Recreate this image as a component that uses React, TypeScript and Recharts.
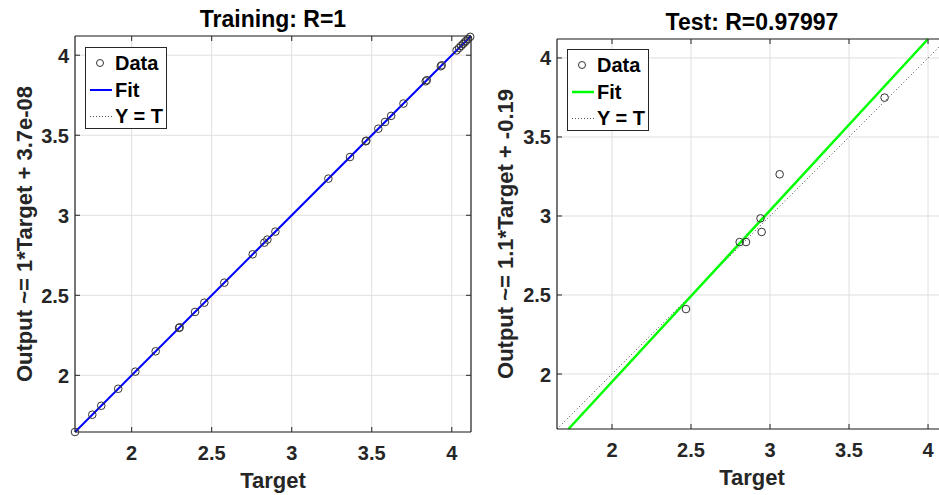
import React from 'react'
import { ComposedChart, Scatter, Line, XAxis, YAxis, CartesianGrid, Legend } from 'recharts'

// tick values shared by both panels
const tickValues = [2, 2.5, 3, 3.5, 4]

// training panel
const trainTargets = [1.646, 1.754, 1.81, 1.916, 2.023, 2.15, 2.296, 2.3, 2.396, 2.454, 2.579, 2.756, 2.829, 2.848, 2.898, 3.229, 3.364, 3.462, 3.466, 3.541, 3.583, 3.621, 3.698, 3.837, 3.844, 3.931, 3.937, 4.03, 4.045, 4.058, 4.07, 4.08, 4.09, 4.102, 4.115]
const trainOutputs = [1.646, 1.754, 1.81, 1.916, 2.023, 2.15, 2.296, 2.3, 2.396, 2.454, 2.579, 2.756, 2.829, 2.848, 2.898, 3.229, 3.364, 3.462, 3.466, 3.541, 3.583, 3.621, 3.698, 3.837, 3.844, 3.931, 3.937, 4.03, 4.045, 4.058, 4.07, 4.08, 4.09, 4.102, 4.115]
const trainFitT = [1.646, 4.12]
const trainFitO = [1.646, 4.12]
const trainIdT = [1.646, 4.12]
const trainIdO = [1.646, 4.12]

// test panel
const testTargets = [2.468, 2.808, 2.848, 2.94, 2.947, 3.061, 3.725]
const testOutputs = [2.411, 2.835, 2.835, 2.985, 2.899, 3.264, 3.749]
const testFitT = [1.725, 4.0]
const testFitO = [1.652, 4.12]
const testIdT = [1.652, 4.12]
const testIdO = [1.652, 4.12]

const FONT = '"Liberation Sans", Arial, Helvetica, sans-serif'
const AXIS = '#262626'
const GRID = '#dfdfdf'

const pts = (xs: number[], ys: number[]) => xs.map((x, i) => ({ x, y: ys[i] }))

function BottomTick({ x, y, payload }: any) {
  return (
    <g>
      <line x1={x} x2={x} y1={y} y2={y - 5} stroke={AXIS} />
      <text x={x} y={y + 28} textAnchor="middle" fill={AXIS} fontSize={20} fontWeight="bold" fontFamily={FONT}>
        {payload.value}
      </text>
    </g>
  )
}

function LeftTick({ x, y, payload }: any) {
  return (
    <g>
      <line x1={x} x2={x + 5} y1={y} y2={y} stroke={AXIS} />
      <text x={x - 6} y={y + 7.5} textAnchor="end" fill={AXIS} fontSize={20} fontWeight="bold" fontFamily={FONT}>
        {payload.value}
      </text>
    </g>
  )
}

// top axis has height 1, right axis width 1: ticks start at the plot edge
const TopTick = ({ x, y }: any) => <line x1={x} x2={x} y1={y} y2={y + 5} stroke={AXIS} />
const RightTick = ({ x, y }: any) => <line x1={x} x2={x - 5} y1={y} y2={y} stroke={AXIS} />

const Circle = (p: any) => <circle cx={p.cx} cy={p.cy} r={3.8} fill="none" stroke="#333" strokeWidth={1} />

function LegendBox({ color, width }: { color: string; width: number }) {
  return (
    <div style={{ width: 80, height: 80, border: `1px solid ${AXIS}`, background: '#fff' }}>
      <svg width={80} height={80} style={{ display: 'block' }}>
        <circle cx={14} cy={15} r={3.5} fill="none" stroke="#333" />
        <line x1={4} x2={26} y1={42} y2={42} stroke={color} strokeWidth={width} />
        <line x1={4} x2={26} y1={68.5} y2={68.5} stroke="#555" strokeDasharray="1 2" />
        <g fontFamily={FONT} fontWeight="bold" fontSize={20} fill="#000">
          <text x={29} y={22}>Data</text>
          <text x={29} y={49}>Fit</text>
          <text x={29} y={75}>Y = T</text>
        </g>
      </svg>
    </div>
  )
}

interface PanelProps {
  left: number
  title: string
  ylabel: string
  domain: [number, number]
  margin: { top: number; right: number; left: number; bottom: number }
  yWidth: number
  xHeight: number
  targets: number[]
  outputs: number[]
  fitT: number[]
  fitO: number[]
  idT: number[]
  idO: number[]
  fitColor: string
  fitWidth: number
  legendPos: { left: number; top: number }
  ylabelX: number
}

function Panel(p: PanelProps) {
  return (
    <div style={{ position: 'absolute', left: p.left, top: 0 }}>
      <ComposedChart width={480} height={495} margin={p.margin}>
        <CartesianGrid stroke={GRID} fill="none" />
        <XAxis
          type="number"
          dataKey="x"
          domain={p.domain}
          ticks={tickValues}
          height={p.xHeight}
          tickSize={0}
          tickMargin={0}
          tickLine={false}
          tick={<BottomTick />}
          axisLine={{ stroke: AXIS, strokeWidth: 1.2 }}
          label={(lp: any) => {
            const vb = lp.viewBox
            return (
              <text x={vb.x + vb.width / 2} y={vb.y + 56} textAnchor="middle" fill={AXIS} fontSize={22} fontWeight="bold" fontFamily={FONT}>
                Target
              </text>
            )
          }}
        />
        <XAxis
          xAxisId="top"
          orientation="top"
          type="number"
          dataKey="x"
          domain={p.domain}
          allowDataOverflow
          ticks={tickValues}
          height={1}
          tickSize={0}
          tickMargin={0}
          tickLine={false}
          tick={<TopTick />}
          axisLine={{ stroke: AXIS, strokeWidth: 1.2 }}
          label={(lp: any) => {
            const vb = lp.viewBox
            return (
              <text x={vb.x + vb.width / 2} y={vb.y + vb.height - 9} textAnchor="middle" fill="#000" fontSize={23} fontWeight="bold" fontFamily={FONT}>
                {p.title}
              </text>
            )
          }}
        />
        <YAxis
          type="number"
          dataKey="y"
          domain={p.domain}
          ticks={tickValues}
          width={p.yWidth}
          tickSize={0}
          tickMargin={0}
          tickLine={false}
          tick={<LeftTick />}
          axisLine={{ stroke: AXIS, strokeWidth: 1.2 }}
          label={(lp: any) => {
            const vb = lp.viewBox
            const cy = vb.y + vb.height / 2
            return (
              <text x={p.ylabelX} y={cy} transform={`rotate(-90, ${p.ylabelX}, ${cy})`} textAnchor="middle" fill={AXIS} fontSize={22} fontWeight="bold" fontFamily={FONT}>
                {p.ylabel}
              </text>
            )
          }}
        />
        <YAxis
          yAxisId="right"
          orientation="right"
          type="number"
          dataKey="y"
          domain={p.domain}
          allowDataOverflow
          ticks={tickValues}
          width={1}
          tickSize={0}
          tickMargin={0}
          tickLine={false}
          tick={<RightTick />}
          axisLine={{ stroke: AXIS, strokeWidth: 1.2 }}
        />
        <Legend
          layout="vertical"
          align="center"
          verticalAlign="middle"
          wrapperStyle={{ left: p.legendPos.left, top: p.legendPos.top, width: 82 }}
          content={() => <LegendBox color={p.fitColor} width={p.fitWidth} />}
        />
        {/* invisible series bound to the box axes (top / right) */}
        <Line
          xAxisId="top"
          yAxisId="right"
          data={pts(p.idT, p.idO)}
          dataKey="y"
          stroke="none"
          dot={false}
          activeDot={false}
          legendType="none"
          isAnimationActive={false}
        />
        <Line
          data={pts(p.idT, p.idO)}
          dataKey="y"
          stroke="#444"
          strokeWidth={1}
          strokeDasharray="1 2.5"
          dot={false}
          activeDot={false}
          legendType="none"
          isAnimationActive={false}
        />
        <Line
          data={pts(p.fitT, p.fitO)}
          dataKey="y"
          stroke={p.fitColor}
          strokeWidth={p.fitWidth}
          dot={false}
          activeDot={false}
          legendType="none"
          isAnimationActive={false}
        />
        <Scatter data={pts(p.targets, p.outputs)} dataKey="y" shape={Circle} legendType="none" isAnimationActive={false} />
      </ComposedChart>
    </div>
  )
}

export default function App() {
  return (
    <div style={{ position: 'fixed', left: 0, top: 0, width: 939, height: 495, overflow: 'hidden', background: '#fff' }}>
      <Panel
        left={0}
        title="Training: R=1"
        ylabel="Output ~= 1*Target + 3.7e-08"
        domain={[1.646, 4.12]}
        margin={{ top: 35, right: 8, left: 0, bottom: 0 }}
        yWidth={75}
        xHeight={63}
        targets={trainTargets}
        outputs={trainOutputs}
        fitT={trainFitT}
        fitO={trainFitO}
        idT={trainIdT}
        idO={trainIdO}
        fitColor="#0000ff"
        fitWidth={2}
        legendPos={{ left: 85, top: 47 }}
        ylabelX={31.5}
      />
      <Panel
        left={480}
        title="Test: R=0.97997"
        ylabel="Output ~= 1.1*Target + -0.19"
        domain={[1.652, 4.12]}
        margin={{ top: 38, right: 12, left: 0, bottom: 0 }}
        yWidth={77}
        xHeight={66}
        targets={testTargets}
        outputs={testOutputs}
        fitT={testFitT}
        fitO={testFitO}
        idT={testIdT}
        idO={testIdO}
        fitColor="#00ff00"
        fitWidth={2.5}
        legendPos={{ left: 87, top: 49 }}
        ylabelX={33}
      />
    </div>
  )
}
